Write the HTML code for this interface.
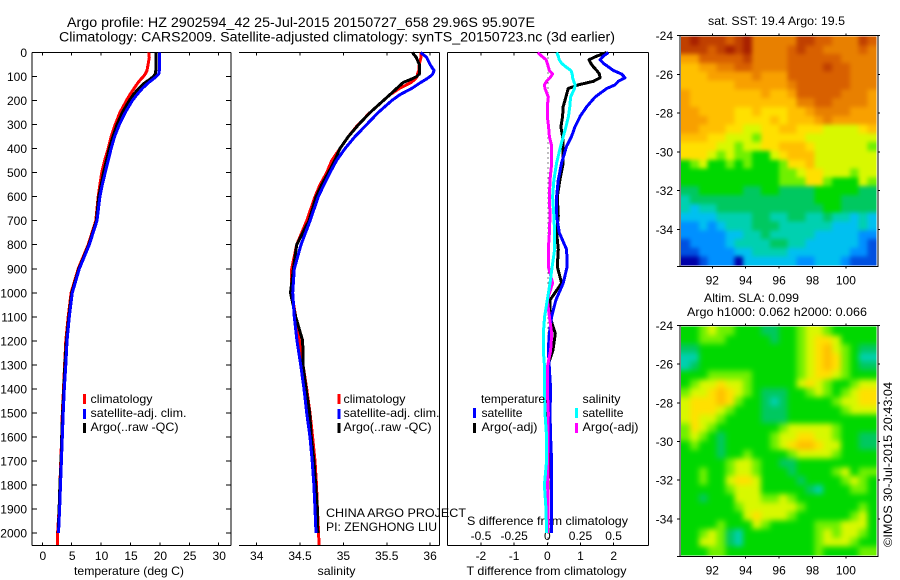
<!DOCTYPE html>
<html lang="en">
<head>
<meta charset="utf-8">
<title>Argo profile</title>
<style>
html,body{margin:0;padding:0;background:#fff;width:900px;height:580px;overflow:hidden}
svg{display:block}
text{font-family:"Liberation Sans",sans-serif;font-size:12px;fill:#000}
.ln{fill:none;stroke-width:3;stroke-linejoin:round;stroke-linecap:butt;shape-rendering:crispEdges}
</style>
</head>
<body>
<svg id="chart" xmlns="http://www.w3.org/2000/svg" width="900" height="580" viewBox="0 0 900 580"></svg>
<script>
// ---------- profile data ----------
const depths = [0,20,50,75,90,100,110,125,150,175,200,250,300,350,400,450,500,550,600,700,800,900,1000,1100,1200,1300,1400,1500,1600,1700,1800,1900,2000,2050];
const tempClim = [18.1,18.2,18.0,17.8,17.5,17.2,16.8,16.3,15.6,14.9,14.3,13.2,12.4,11.7,11.2,10.6,10.1,9.8,9.5,9.1,7.8,6.1,4.9,4.4,4.0,3.8,3.6,3.4,3.3,3.15,3.0,2.85,2.6,2.55];
const tempSat = [19.9,19.9,19.9,19.9,19.8,19.4,18.9,18.1,17.0,16.1,15.3,14.1,13.1,12.3,11.7,11.2,10.7,10.2,9.8,9.3,8.0,6.3,5.1,4.6,4.2,4.0,3.75,3.55,3.4,3.25,3.1,2.95,2.75,null];
const tempArgo = [19.3,19.3,19.3,19.3,19.2,18.9,18.4,17.5,16.4,15.5,14.8,13.6,12.7,12.0,11.4,10.9,10.4,10.0,9.6,9.2,7.9,6.2,5.0,4.5,4.1,3.85,3.65,3.45,3.3,3.2,3.0,2.85,2.7,null];
const salClim = [35.895,35.895,35.876,35.87,35.855,35.85,35.83,35.78,35.645,35.537,35.46,35.307,35.17,35.057,34.96,34.865,34.807,34.73,34.672,34.577,34.461,34.404,34.404,34.45,34.492,34.534,34.577,34.615,34.645,34.672,34.69,34.70,34.714,34.718];
const salSat = [35.89,35.96,36.0,36.045,36.03,36.0,35.96,35.89,35.787,35.653,35.557,35.40,35.268,35.134,35.018,34.92,34.845,34.776,34.71,34.616,34.511,34.434,34.415,34.434,34.465,34.507,34.546,34.577,34.615,34.64,34.66,34.672,34.684,null];
const salArgo = [35.795,35.84,35.876,35.876,35.876,35.847,35.79,35.69,35.614,35.537,35.46,35.307,35.175,35.057,34.96,34.90,34.827,34.75,34.685,34.603,34.461,34.423,34.39,34.45,34.53,34.534,34.57,34.61,34.63,34.66,34.68,34.70,34.705,null];

// ---------- difference panel data ----------
const diffDepths = [0,15,30,45,60,75,90,105,120,135,150,185,225,265,310,350,390,460,530,600,680,750,820,890,960,1030,1100,1170,1240,1310,1400,1500,1600,1700,1800,1900,2000];
const diffTempSat = [1.84,1.69,1.59,1.69,1.84,1.99,2.24,2.34,2.14,2.04,1.79,1.44,1.19,0.99,0.83,0.73,0.58,0.43,0.33,0.28,0.28,0.36,0.58,0.60,0.48,0.26,0.13,0.06,0.03,0.06,0.10,0.08,0.10,0.13,0.13,0.13,0.13];
const diffTempArgo = [1.79,1.49,1.26,1.31,1.39,1.49,1.57,1.59,1.39,0.93,0.63,0.56,0.48,0.46,0.41,0.46,0.48,0.48,0.38,0.30,0.33,0.28,0.33,0.30,0.43,0.08,0.08,0.24,0.17,0,0,0,0.01,0.05,0.02,0.02,0.02];
const diffSalSat = [0.07,0.083,0.09,0.108,0.14,0.178,0.188,0.19,0.2,0.21,0.205,0.176,0.17,0.16,0.14,0.12,0.10,0.07,0.05,0.04,0.05,0.055,0.055,0.037,0.02,0,-0.02,-0.03,-0.03,-0.02,-0.022,-0.017,-0.005,-0.005,-0.022,-0.01,-0.005];
const diffSalArgo = [-0.073,-0.042,-0.01,0,0.0075,0.016,0.04,0.02,-0.005,-0.022,-0.017,0.0075,0,0,0.01,0.016,0.033,0.033,0.02,0.016,0.02,0.016,0.0075,0.0075,0.04,0,0.016,0.033,0.025,0,0,0.0075,0.005,0.005,0.003,0.005,0.003];

// ---------- tick labels ----------
const depthTicks = [0,100,200,300,400,500,600,700,800,900,1000,1100,1200,1300,1400,1500,1600,1700,1800,1900,2000];
const tempTicks = [0,5,10,15,20,25,30];
const salTicks = [34,34.5,35,35.5,36];
const diffTTicks = [-2,-1,0,1,2];
const diffSTicks = [-0.5,-0.25,0,0.25,0.5];
const lonTicks = [92,94,96,98,100];
const latTicks = [-24,-26,-28,-30,-32,-34];

// ---------- map data (colour-scale levels) ----------
const mapLevels = ['#0000a8','#0050e0','#0090ff','#00c0f0','#00d0b0','#00c860','#00d800','#70f000','#d8f800','#ffe000','#ffc000','#f8a000','#e88000','#d86000','#c04000','#a82000'];
const sstGrid = [
[14,15,14,14,14,13,14,15,12,12,12,12,12,14,14,13,13,12,12,12,14,13],
[14,14,14,13,14,15,14,15,12,12,12,12,13,14,13,13,12,12,12,12,13,12],
[11,11,13,13,13,13,13,14,12,12,12,12,13,13,13,13,13,13,12,12,12,12],
[10,10,11,11,12,12,13,13,12,12,12,12,13,13,13,13,14,13,13,12,12,12],
[10,10,10,11,11,11,11,11,12,11,11,11,13,13,13,13,13,13,13,12,12,12],
[10,10,10,10,10,10,11,11,11,11,11,11,12,13,13,13,13,13,13,12,12,12],
[11,10,10,10,10,10,10,10,10,11,10,10,11,13,13,13,13,13,12,12,12,11],
[11,10,10,10,10,10,10,10,10,10,10,10,10,12,12,13,13,12,12,12,12,11],
[11,11,10,10,10,10,9,9,10,9,9,9,10,10,11,12,12,12,12,11,11,11],
[11,11,11,10,10,10,9,9,9,9,10,9,10,10,10,11,12,11,11,11,11,11],
[11,11,10,10,10,9,9,8,8,9,9,10,10,9,9,9,8,8,8,8,9,10],
[10,10,10,9,9,8,8,8,7,9,9,9,9,9,8,8,8,8,8,8,8,8],
[9,9,9,9,8,8,7,8,8,9,9,10,10,10,9,8,8,8,8,8,8,7],
[9,9,9,8,7,8,7,7,6,6,8,9,10,10,10,8,8,8,8,8,8,8],
[6,7,8,6,6,7,6,7,6,6,6,7,9,9,10,8,8,8,8,8,8,8],
[6,6,6,6,6,6,6,6,6,6,6,7,7,8,9,9,8,8,8,7,8,8],
[6,6,6,6,6,6,6,6,6,6,6,7,7,7,9,9,7,6,6,6,8,7],
[5,5,6,6,6,6,6,5,5,6,6,5,5,5,5,6,6,6,6,6,5,5],
[4,5,5,5,5,5,5,5,5,5,5,5,5,5,5,6,6,6,5,5,5,5],
[4,3,4,4,5,5,5,5,5,5,5,5,5,5,5,5,6,6,5,5,5,5],
[3,3,3,3,4,4,4,4,5,5,4,4,5,5,4,4,5,4,4,3,4,3],
[2,2,3,2,3,4,4,4,5,5,5,4,4,4,4,4,4,3,3,3,4,3],
[2,2,2,2,2,3,3,4,4,5,4,4,4,4,4,3,3,3,3,3,2,2],
[1,2,2,2,2,3,4,4,4,4,5,5,4,4,3,3,3,3,3,3,2,1],
[1,1,2,2,2,2,3,3,4,4,4,4,3,3,3,3,3,3,3,2,2,1],
[0,0,1,2,2,2,0,3,3,3,3,3,3,2,2,3,3,3,2,1,1,1]
];
const slaGrid = [
[6,6,7,8,7,7,6,6,6,5,5,6,6,7,8,8,7,6,6,6,6,6],
[6,6,7,7,7,6,6,6,6,6,5,6,6,7,8,9,9,8,6,6,6,6],
[5,5,6,6,6,6,6,6,6,6,6,6,6,7,8,9,10,8,7,6,5,5],
[4,4,6,6,6,6,6,6,6,6,6,6,6,7,8,9,10,9,7,6,4,4],
[4,5,6,6,6,6,6,6,6,6,6,6,6,7,8,9,10,9,7,6,5,5],
[6,6,6,7,7,7,7,7,6,6,6,6,6,7,8,9,9,8,7,6,6,6],
[6,7,8,8,9,8,8,7,6,6,6,6,6,8,9,8,7,6,6,7,8,8],
[7,8,8,9,10,9,8,7,6,5,5,5,6,6,7,8,7,6,7,8,9,9],
[8,9,9,9,10,9,7,6,6,5,4,5,6,6,6,6,6,7,8,8,9,9],
[8,9,9,9,8,7,6,6,6,5,5,5,6,6,6,6,6,6,7,8,8,8],
[8,9,8,8,7,6,6,6,6,5,5,5,6,6,6,6,6,6,6,6,6,6],
[7,9,8,7,6,6,6,6,6,6,6,7,8,8,8,8,8,7,6,6,6,6],
[7,8,7,6,5,6,6,6,6,6,7,8,8,9,9,8,8,7,6,6,5,5],
[6,7,6,6,5,6,6,6,6,6,7,8,9,10,10,9,8,8,6,6,5,5],
[6,6,6,6,5,6,6,7,6,6,6,6,7,8,8,8,8,7,6,6,6,6],
[6,6,6,6,6,7,8,8,7,6,6,5,5,6,6,6,6,6,6,6,6,6],
[6,6,7,6,6,7,8,8,7,6,6,6,5,6,6,6,6,7,8,6,7,7],
[6,6,7,6,6,8,9,9,8,6,6,6,6,5,6,6,6,6,7,8,7,6],
[6,6,6,6,6,7,8,8,8,6,6,6,6,6,5,4,6,6,6,7,7,6],
[6,6,5,6,6,6,8,8,8,7,7,8,7,6,6,6,6,6,6,6,6,6],
[6,6,6,6,6,6,7,8,8,8,8,8,8,7,6,6,6,6,6,6,7,6],
[6,6,6,6,6,6,6,8,9,8,8,8,7,6,6,6,6,6,6,7,8,6],
[6,6,6,6,7,6,6,6,8,7,6,6,6,6,6,7,7,7,8,8,8,6],
[6,6,7,8,7,5,4,6,6,6,6,6,6,6,6,7,8,7,8,8,7,6],
[6,6,8,8,7,5,4,6,6,6,6,6,6,6,6,7,8,8,8,7,6,6],
[6,6,6,7,7,6,6,6,6,6,6,6,6,6,6,7,6,6,6,6,7,7]
];

// ---------- axis functions ----------
const depthY = d => 52.5 + 0.2403 * d;
const tempX = t => 42.3 + 5.88 * t;
const salX = s => 256.7 + 86.7 * (s - 34);
const diffTX = t => 547.3 + 33.2 * t;
const diffSX = s => 547.3 + 132.6 * s;
const lonX = l => 712.3 + 16.7 * (l - 92);

const NS = 'http://www.w3.org/2000/svg';
const svg = document.getElementById('chart');

function mk(tag, attrs, parent) {
  const el = document.createElementNS(NS, tag);
  for (const k in attrs) el.setAttribute(k, attrs[k]);
  (parent || svg).appendChild(el);
  return el;
}
function rule(x1, y1, x2, y2, name) {
  const el = mk('line', {x1, y1, x2, y2, stroke: '#000', 'stroke-width': 1, 'shape-rendering': 'crispEdges'});
  
  
  return el;
}
function label(x, y, str, name, opts) {
  const o = opts || {};
  const el = mk('text', {x, y, 'text-anchor': o.anchor || 'start'});
  if (o.size) el.style.fontSize = o.size + 'px';
  if (o.len) { el.setAttribute('textLength', o.len); el.setAttribute('lengthAdjust', 'spacingAndGlyphs'); }
  if (o.rotate) el.setAttribute('transform', 'rotate(-90 ' + x + ' ' + y + ')');
  el.textContent = str;
  
  
  return el;
}
function swatch(x, y, color, name) {
  const el = mk('rect', {x, y, width: 3, height: 10, fill: color, 'shape-rendering': 'crispEdges'});
  
  
}
function curve(ds, vals, xf, yf, color, name) {
  const pts = [];
  vals.forEach((v, i) => { if (v !== null) pts.push(xf(v).toFixed(1) + ',' + yf(ds[i]).toFixed(1)); });
  const el = mk('polyline', {points: pts.join(' '), class: 'ln', stroke: color});
  
  
}
function fmt(v) { return String(v); }

// ---------- titles ----------
label(67, 27, 'Argo profile: HZ 2902594_42 25-Jul-2015 20150727_658 29.96S 95.907E', 'figure-title-line-1', {size: 13.5, len: 468});
label(59, 41.5, 'Climatology: CARS2009. Satellite-adjusted climatology: synTS_20150723.nc (3d earlier)', 'figure-title-line-2', {size: 13.5, len: 556});

const TOP = 52.5, BOT = 545.5;

// ---------- panel frames ----------
rule(32, TOP, 231, TOP, 'temperature-top-axis');
rule(32, BOT, 231, BOT, 'temperature-bottom-axis');
rule(32, TOP, 32, BOT, 'temperature-left-axis');
rule(231, TOP, 231, BOT, 'temperature-right-axis');
rule(239, TOP, 439.5, TOP, 'salinity-top-axis');
rule(239, BOT, 439.5, BOT, 'salinity-bottom-axis');
rule(439.5, TOP, 439.5, BOT, 'salinity-right-axis');
rule(447.5, TOP, 648.5, TOP, 'difference-top-axis');
rule(447.5, BOT, 648.5, BOT, 'difference-bottom-axis');
rule(447.5, TOP, 447.5, BOT, 'difference-left-axis');
rule(648.5, TOP, 648.5, BOT, 'difference-right-axis');

// depth ticks
depthTicks.forEach(d => {
  const y = depthY(d);
  rule(32, y, 37, y, 'depth-tick-left');
  rule(226, y, 231, y, 'depth-tick-right');
  label(27, y + 4.5, fmt(d), 'depth-tick-label', {anchor: 'end'});
});
// x ticks
tempTicks.forEach(t => {
  const x = tempX(t);
  rule(x, TOP, x, TOP + 3, 'temperature-top-tick');
  rule(x, BOT - 3, x, BOT, 'temperature-bottom-tick');
  label(x + 0.5, 560, fmt(t), 'temperature-tick-label', {anchor: 'middle'});
});
salTicks.forEach(s => {
  const x = salX(s);
  rule(x, TOP, x, TOP + 3, 'salinity-top-tick');
  rule(x, BOT - 3, x, BOT, 'salinity-bottom-tick');
  label(x, 560, fmt(s), 'salinity-tick-label', {anchor: 'middle'});
});
diffTTicks.forEach(t => {
  const x = diffTX(t);
  rule(x, TOP, x, TOP + 3, 'difference-top-tick');
  rule(x, BOT - 3, x, BOT, 'difference-bottom-tick');
  label(x, 560, fmt(t), 'temperature-difference-tick-label', {anchor: 'middle'});
});
diffSTicks.forEach(s => {
  label(diffSX(s), 540, fmt(s), 'salinity-difference-tick-label', {anchor: 'middle'});
});

// axis titles
label(74, 575, 'temperature (deg C)', 'temperature-axis-title', {len: 110});
label(317.5, 575, 'salinity', 'salinity-axis-title', {len: 38});
label(466.5, 575, 'T difference from climatology', 'temperature-difference-axis-title', {len: 160});
label(467, 525, 'S difference from climatology', 'salinity-difference-axis-title', {len: 161});

// ---------- series ----------
curve(depths, tempClim, tempX, depthY, '#ff0000', 'temperature-climatology-line');
curve(depths, tempArgo, tempX, depthY, '#000000', 'temperature-argo-line');
curve(depths, tempSat, tempX, depthY, '#0000ff', 'temperature-satellite-line');
curve(depths, salClim, salX, depthY, '#ff0000', 'salinity-climatology-line');
curve(depths, salArgo, salX, depthY, '#000000', 'salinity-argo-line');
curve(depths, salSat, salX, depthY, '#0000ff', 'salinity-satellite-line');

const zeroLine = mk('line', {x1: diffTX(0) + 0.5, y1: TOP, x2: diffTX(0) + 0.5, y2: BOT, stroke: '#000', 'stroke-width': 1, 'stroke-dasharray': '1 4', 'shape-rendering': 'crispEdges'});



curve(diffDepths, diffTempArgo, diffTX, depthY, '#000000', 'difference-temperature-argo-line');
curve(diffDepths, diffTempSat, diffTX, depthY, '#0000ff', 'difference-temperature-satellite-line');
curve(diffDepths, diffSalArgo, diffSX, depthY, '#ff00ff', 'difference-salinity-argo-line');
curve(diffDepths, diffSalSat, diffSX, depthY, '#00ffff', 'difference-salinity-satellite-line');

// ---------- legends ----------
swatch(83, 394, '#ff0000', 'legend-temperature-climatology-swatch');
swatch(83, 409, '#0000ff', 'legend-temperature-satellite-swatch');
swatch(83, 423, '#000000', 'legend-temperature-argo-swatch');
label(90.5, 403, 'climatology', 'legend-temperature-climatology', {len: 62});
label(90.5, 417, 'satellite-adj. clim.', 'legend-temperature-satellite', {len: 96});
label(90.5, 431, 'Argo(..raw -QC)', 'legend-temperature-argo', {len: 88});
swatch(337.5, 394, '#ff0000', 'legend-salinity-climatology-swatch');
swatch(337.5, 409, '#0000ff', 'legend-salinity-satellite-swatch');
swatch(337.5, 423, '#000000', 'legend-salinity-argo-swatch');
label(343.5, 403, 'climatology', 'legend-salinity-climatology', {len: 62});
label(343.5, 417, 'satellite-adj. clim.', 'legend-salinity-satellite', {len: 96});
label(343.5, 431, 'Argo(..raw -QC)', 'legend-salinity-argo', {len: 88});
label(326, 517, 'CHINA ARGO PROJECT', 'project-credit', {len: 140});
label(326, 531, 'PI: ZENGHONG LIU', 'investigator-credit', {len: 111});

label(481, 403, 'temperature', 'legend-difference-temperature-heading', {len: 64});
swatch(473, 408, '#0000ff', 'legend-difference-temperature-satellite-swatch');
label(481.5, 417, 'satellite', 'legend-difference-temperature-satellite', {len: 41});
swatch(473, 423, '#000000', 'legend-difference-temperature-argo-swatch');
label(481.5, 431, 'Argo(-adj)', 'legend-difference-temperature-argo', {len: 56});
label(582.5, 403, 'salinity', 'legend-difference-salinity-heading', {len: 38});
swatch(575, 408, '#00ffff', 'legend-difference-salinity-satellite-swatch');
label(582.5, 417, 'satellite', 'legend-difference-salinity-satellite', {len: 41});
swatch(575, 423, '#ff00ff', 'legend-difference-salinity-argo-swatch');
label(582.5, 431, 'Argo(-adj)', 'legend-difference-salinity-argo', {len: 56});

// ---------- maps ----------
const defs = mk('defs', {});
function drawMap(grid, top, latScale, bottom, prefix, blur) {
  const latY = l => top + latScale * (-24 - l);
  const rows = grid.length, cols = grid[0].length;
  const left = 681, right = 876.5, cTop = top + 1, cBot = bottom - 1;
  const cw = (right - left) / cols, ch = (cBot - cTop) / rows;
  const bleed = 16;
  const filt = mk('filter', {id: prefix + '-soften', filterUnits: 'userSpaceOnUse', x: left - bleed, y: cTop - bleed, width: right - left + 2 * bleed, height: cBot - cTop + 2 * bleed, 'color-interpolation-filters': 'sRGB'}, defs);
  mk('feGaussianBlur', {stdDeviation: blur}, filt);
  const clip = mk('clipPath', {id: prefix + '-clip'}, defs);
  mk('rect', {x: left, y: cTop, width: right - left, height: cBot - cTop}, clip);
  const wrap = mk('g', {'clip-path': 'url(#' + prefix + '-clip)'});
  
  
  const g = mk('g', {filter: 'url(#' + prefix + '-soften)'}, wrap);
  
  
  grid.forEach((row, r) => row.forEach((v, c) => {
    // edge cells bleed outward so the softening does not fade into white at the frame
    const x0 = left + c * cw - (c === 0 ? bleed : 0);
    const x1 = left + (c + 1) * cw + 0.6 + (c === cols - 1 ? bleed : 0);
    const y0 = cTop + r * ch - (r === 0 ? bleed : 0);
    const y1 = cTop + (r + 1) * ch + 0.6 + (r === rows - 1 ? bleed : 0);
    const cell = mk('rect', {x: x0, y: y0, width: x1 - x0, height: y1 - y0, fill: mapLevels[v], 'shape-rendering': 'crispEdges'}, g);
    
    
  }));
  const frame = mk('rect', {x: 680, y: top, width: 198, height: bottom - top, fill: 'none', stroke: '#000', 'stroke-width': 1, 'shape-rendering': 'crispEdges'});
  
  
  lonTicks.forEach(l => {
    const x = lonX(l);
    rule(x, top - 2, x, top, prefix + '-top-tick');
    rule(x, bottom, x, bottom + 2, prefix + '-bottom-tick');
    label(x, bottom + 18, fmt(l), prefix + '-longitude-label', {anchor: 'middle'});
  });
  latTicks.forEach(l => {
    const y = latY(l);
    rule(677, y, 680, y, prefix + '-left-tick');
    rule(878, y, 880, y, prefix + '-right-tick');
    label(673, y + 4.5, fmt(l), prefix + '-latitude-label', {anchor: 'end'});
  });
  rule(677, bottom, 680, bottom, prefix + '-corner-tick');
}
drawMap(sstGrid, 35.5, 19.4, 266.5, 'sst-map', 2);
drawMap(slaGrid, 325.5, 19.33, 556.5, 'sla-map', 3);

label(708, 25, 'sat. SST: 19.4 Argo: 19.5', 'sst-map-title', {len: 137});
label(704, 302, 'Altim. SLA: 0.099', 'sla-map-title-line-1', {len: 95});
label(687, 316, 'Argo h1000: 0.062 h2000: 0.066', 'sla-map-title-line-2', {len: 180});
label(892, 547, '©IMOS 30-Jul-2015 20:43:04', 'timestamp-credit', {rotate: true, len: 165});
</script>
</body>
</html>
